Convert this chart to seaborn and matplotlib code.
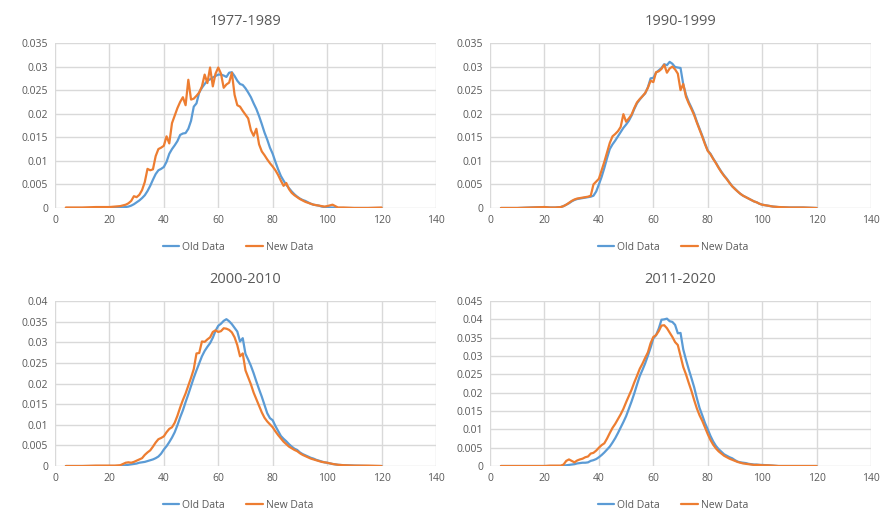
import numpy as np
import pandas as pd
import matplotlib
matplotlib.use("Agg")
import matplotlib.pyplot as plt
import seaborn as sns
from matplotlib.ticker import FuncFormatter, MultipleLocator

# --- data ---
AGE = [4, 10, 15, 20, 22, 24, 26, 27,
       28, 29, 30, 31, 32, 33, 34, 35, 36, 37,
       38, 39, 40, 41, 42, 43, 44, 45, 46, 47,
       48, 49, 50, 51, 52, 53, 54, 55, 56, 57,
       58, 59, 60, 61, 62, 63, 64, 65, 66, 67,
       68, 69, 70, 71, 72, 73, 74, 75, 76, 77,
       78, 79, 80, 81, 82, 83, 84, 85, 86, 87,
       88, 89, 90, 91, 92, 93, 94, 95, 96, 97,
       98, 99, 100,
       102, 104, 106, 110, 115, 120]

PANEL_TITLES = ["1977-1989", "1990-1999", "2000-2010", "2011-2020"]
Y_MAX = [0.035, 0.035, 0.04, 0.045]

OLD_1977 = [0, 0, 0, 0, 0, 0.0001, 0.0002, 0.0003,
            0.0005, 0.0008, 0.0012, 0.0016, 0.0021, 0.0027, 0.0036, 0.0047, 0.0060, 0.0072,
            0.0080, 0.0083, 0.0087, 0.0098, 0.0115, 0.0125, 0.0133, 0.0142, 0.0155, 0.0158,
            0.0159, 0.0168, 0.0185, 0.0215, 0.0222, 0.0245, 0.0255, 0.0263, 0.0270, 0.0273,
            0.0277, 0.0280, 0.0283, 0.0283, 0.0281, 0.0278, 0.0287, 0.0288, 0.0280, 0.0270,
            0.0263, 0.0261, 0.0254, 0.0245, 0.0235, 0.0222, 0.0210, 0.0195, 0.0178, 0.0160,
            0.0145, 0.0128, 0.0115, 0.0098, 0.0082, 0.0068, 0.0058, 0.0049, 0.0042, 0.0035,
            0.0029, 0.0024, 0.0020, 0.0017, 0.0015, 0.0012, 0.0009, 0.0007, 0.0006, 0.0005,
            0.0003, 0.0002, 0.0001,
            0.0001, 0, 0, 0, 0, 0]
NEW_1977 = [0.0001, 0.0001, 0.0002, 0.0002, 0.0003, 0.0004, 0.0007, 0.0010,
            0.0015, 0.0025, 0.0023, 0.0028, 0.0038, 0.0055, 0.0083, 0.0080, 0.0082, 0.0110,
            0.0125, 0.0128, 0.0132, 0.0152, 0.0137, 0.0180, 0.0196, 0.0212, 0.0225, 0.0235,
            0.0218, 0.0272, 0.0230, 0.0232, 0.0238, 0.0245, 0.0258, 0.0283, 0.0265, 0.0298,
            0.0258, 0.0285, 0.0298, 0.0285, 0.0255, 0.0262, 0.0266, 0.0287, 0.0240, 0.0218,
            0.0215, 0.0206, 0.0198, 0.0190, 0.0165, 0.0153, 0.0168, 0.0135, 0.0120, 0.0112,
            0.0103, 0.0095, 0.0088, 0.0080, 0.0070, 0.0058, 0.0047, 0.0053, 0.0040, 0.0032,
            0.0027, 0.0023, 0.0019, 0.0016, 0.0013, 0.0011, 0.0009, 0.0007, 0.0006, 0.0005,
            0.0004, 0.0003, 0.0004,
            0.0007, 0.0001, 0.0001, 0, 0, 0.0001]

OLD_1990 = [0, 0, 0.0001, 0.0002, 0.0001, 0.0001, 0.0002, 0.0004,
            0.0007, 0.0010, 0.0014, 0.0017, 0.0019, 0.0020, 0.0021, 0.0022, 0.0023, 0.0024,
            0.0026, 0.0035, 0.0050, 0.0066, 0.0085, 0.0106, 0.0125, 0.0135, 0.0143, 0.0152,
            0.0161, 0.0170, 0.0177, 0.0185, 0.0196, 0.0210, 0.0222, 0.0230, 0.0237, 0.0243,
            0.0256, 0.0275, 0.0276, 0.0287, 0.0292, 0.0297, 0.0305, 0.0303, 0.0310, 0.0306,
            0.0299, 0.0298, 0.0297, 0.0262, 0.0240, 0.0225, 0.0213, 0.0200, 0.0183, 0.0168,
            0.0153, 0.0137, 0.0122, 0.0115, 0.0105, 0.0096, 0.0086, 0.0077, 0.0069, 0.0062,
            0.0054, 0.0046, 0.0041, 0.0035, 0.0030, 0.0026, 0.0023, 0.0020, 0.0017, 0.0014,
            0.0012, 0.0009, 0.0007,
            0.0005, 0.0003, 0.0002, 0.0001, 0.0001, 0]
NEW_1990 = [0, 0, 0.0001, 0.0002, 0.0001, 0.0001, 0.0002, 0.0004,
            0.0007, 0.0011, 0.0015, 0.0018, 0.0020, 0.0021, 0.0022, 0.0023, 0.0024, 0.0026,
            0.0050, 0.0056, 0.0062, 0.0080, 0.0098, 0.0118, 0.0138, 0.0152, 0.0157, 0.0163,
            0.0172, 0.0199, 0.0183, 0.0190, 0.0198, 0.0212, 0.0224, 0.0231, 0.0237, 0.0244,
            0.0255, 0.0270, 0.0267, 0.0288, 0.0290, 0.0295, 0.0304, 0.0287, 0.0296, 0.0300,
            0.0294, 0.0285, 0.0250, 0.0263, 0.0236, 0.0222, 0.0210, 0.0197, 0.0181, 0.0166,
            0.0151, 0.0135, 0.0121, 0.0114, 0.0104, 0.0095, 0.0085, 0.0076, 0.0068, 0.0061,
            0.0053, 0.0046, 0.0040, 0.0035, 0.0030, 0.0026, 0.0023, 0.0020, 0.0017, 0.0014,
            0.0012, 0.0009, 0.0007,
            0.0005, 0.0003, 0.0002, 0.0001, 0.0001, 0]

OLD_2000 = [0, 0, 0, 0, 0, 0, 0.0002, 0.0003,
            0.0004, 0.0005, 0.0006, 0.0008, 0.0009, 0.0010, 0.0012, 0.0014, 0.0016, 0.0019,
            0.0023, 0.0030, 0.0040, 0.0048, 0.0058, 0.0069, 0.0082, 0.0099, 0.0118, 0.0135,
            0.0155, 0.0174, 0.0194, 0.0214, 0.0232, 0.0249, 0.0266, 0.0279, 0.0289, 0.0298,
            0.0311, 0.0328, 0.0340, 0.0345, 0.0352, 0.0356, 0.0351, 0.0344, 0.0335, 0.0326,
            0.0302, 0.0310, 0.0272, 0.0258, 0.0243, 0.0225, 0.0205, 0.0186, 0.0168, 0.0148,
            0.0128, 0.0116, 0.0111, 0.0097, 0.0085, 0.0073, 0.0066, 0.0060, 0.0053, 0.0047,
            0.0042, 0.0039, 0.0033, 0.0029, 0.0026, 0.0023, 0.0020, 0.0018, 0.0015, 0.0013,
            0.0011, 0.0009, 0.0008,
            0.0005, 0.0003, 0.0002, 0.0001, 0, 0]
NEW_2000 = [0, 0, 0.0001, 0.0001, 0.0001, 0.0002, 0.0008, 0.0009,
            0.0008, 0.0010, 0.0013, 0.0016, 0.0019, 0.0027, 0.0033, 0.0038, 0.0047, 0.0057,
            0.0065, 0.0068, 0.0072, 0.0082, 0.0090, 0.0094, 0.0105, 0.0122, 0.0142, 0.0160,
            0.0176, 0.0195, 0.0214, 0.0235, 0.0273, 0.0274, 0.0302, 0.0301, 0.0307, 0.0312,
            0.0325, 0.0329, 0.0325, 0.0327, 0.0334, 0.0333, 0.0330, 0.0324, 0.0312, 0.0293,
            0.0266, 0.0273, 0.0232, 0.0215, 0.0198, 0.0178, 0.0162, 0.0146, 0.0130, 0.0117,
            0.0108, 0.0101, 0.0094, 0.0084, 0.0075, 0.0067, 0.0059, 0.0053, 0.0047, 0.0043,
            0.0039, 0.0036, 0.0031, 0.0027, 0.0024, 0.0021, 0.0018, 0.0016, 0.0014, 0.0012,
            0.0010, 0.0009, 0.0008,
            0.0005, 0.0003, 0.0002, 0.0001, 0.0001, 0]

OLD_2011 = [0, 0, 0, 0, 0, 0, 0, 0.0001,
            0.0002, 0.0003, 0.0004, 0.0005, 0.0007, 0.0008, 0.0009, 0.0009, 0.0010, 0.0014,
            0.0016, 0.0019, 0.0024, 0.0030, 0.0037, 0.0045, 0.0053, 0.0064, 0.0076, 0.0090,
            0.0105, 0.0120, 0.0136, 0.0156, 0.0176, 0.0198, 0.0222, 0.0245, 0.0262, 0.0280,
            0.0301, 0.0323, 0.0348, 0.0357, 0.0375, 0.0399, 0.0400, 0.0402, 0.0395, 0.0393,
            0.0385, 0.0362, 0.0363, 0.0318, 0.0290, 0.0264, 0.0240, 0.0215, 0.0185, 0.0158,
            0.0138, 0.0117, 0.0100, 0.0082, 0.0067, 0.0055, 0.0046, 0.0039, 0.0032, 0.0028,
            0.0024, 0.0021, 0.0016, 0.0012, 0.0010, 0.0009, 0.0008, 0.0006, 0.0005, 0.0004,
            0.0004, 0.0003, 0.0003,
            0.0002, 0.0001, 0, 0, 0, 0]
NEW_2011 = [0, 0, 0, 0, 0.0001, 0.0001, 0.0001, 0.0004,
            0.0014, 0.0018, 0.0014, 0.0010, 0.0015, 0.0018, 0.0020, 0.0024, 0.0026, 0.0034,
            0.0036, 0.0042, 0.0050, 0.0057, 0.0062, 0.0075, 0.0090, 0.0104, 0.0115, 0.0128,
            0.0141, 0.0156, 0.0174, 0.0191, 0.0208, 0.0228, 0.0246, 0.0265, 0.0279, 0.0295,
            0.0310, 0.0335, 0.0352, 0.0357, 0.0368, 0.0383, 0.0384, 0.0376, 0.0364, 0.0352,
            0.0338, 0.0330, 0.0300, 0.0270, 0.0250, 0.0227, 0.0205, 0.0180, 0.0157, 0.0138,
            0.0123, 0.0105, 0.0087, 0.0071, 0.0058, 0.0048, 0.0040, 0.0034, 0.0028, 0.0024,
            0.0020, 0.0017, 0.0014, 0.0011, 0.0009, 0.0007, 0.0006, 0.0005, 0.0004, 0.0003,
            0.0003, 0.0003, 0.0002,
            0.0002, 0.0001, 0, 0, 0, 0]

OLD_SERIES = [OLD_1977, OLD_1990, OLD_2000, OLD_2011]
NEW_SERIES = [NEW_1977, NEW_1990, NEW_2000, NEW_2011]

PALETTE = {"Old Data": "#5B9BD5", "New Data": "#ED7D31"}
TEXT_GREY = "#595959"
GRID_GREY = "#D9D9D9"

sns.set_theme(style="whitegrid")
plt.rcParams['font.family'] = ['Open Sans', 'DejaVu Sans']

fig, axes = plt.subplots(2, 2, figsize=(8.94, 5.12), dpi=100)
fig.subplots_adjust(left=0.0615, right=0.9743, top=0.916, bottom=0.0898,
                    wspace=0.142, hspace=0.564)

fmt = FuncFormatter(lambda v, _: f"{round(v, 4):g}")

for i, ax in enumerate(axes.flat):
    old, new = OLD_SERIES[i], NEW_SERIES[i]
    assert len(old) == len(AGE) and len(new) == len(AGE)
    df = pd.DataFrame({
        "x": AGE + AGE,
        "y": old + new,
        "Series": ["Old Data"] * len(AGE) + ["New Data"] * len(AGE),
    })
    sns.lineplot(data=df, x="x", y="y", hue="Series",
                 hue_order=["Old Data", "New Data"], palette=PALETTE,
                 estimator=None, sort=False, linewidth=1.6, ax=ax)

    ax.set_xlim(0, 140)
    ax.set_ylim(0, Y_MAX[i])
    ax.xaxis.set_major_locator(MultipleLocator(20))
    ax.yaxis.set_major_locator(MultipleLocator(0.005))
    ax.yaxis.set_major_formatter(fmt)
    ax.xaxis.set_major_formatter(fmt)
    ax.set_xlabel("")
    ax.set_ylabel("")
    ax.grid(True, color=GRID_GREY, linewidth=1.0)
    for s in ax.spines.values():
        s.set_visible(False)
    ax.tick_params(length=0, labelsize=7.5, labelcolor=TEXT_GREY, pad=5)
    ax.set_title(PANEL_TITLES[i], fontsize=10.5, color=TEXT_GREY, pad=13)

    sns.move_legend(ax, "center", bbox_to_anchor=(0.48, -0.24), ncol=2,
                    frameon=False, title=None, fontsize=7.5,
                    handlelength=1.6, handletextpad=0.3, columnspacing=2.0)
    for t in ax.get_legend().get_texts():
        t.set_color(TEXT_GREY)

plt.savefig("out.png", dpi=100)
